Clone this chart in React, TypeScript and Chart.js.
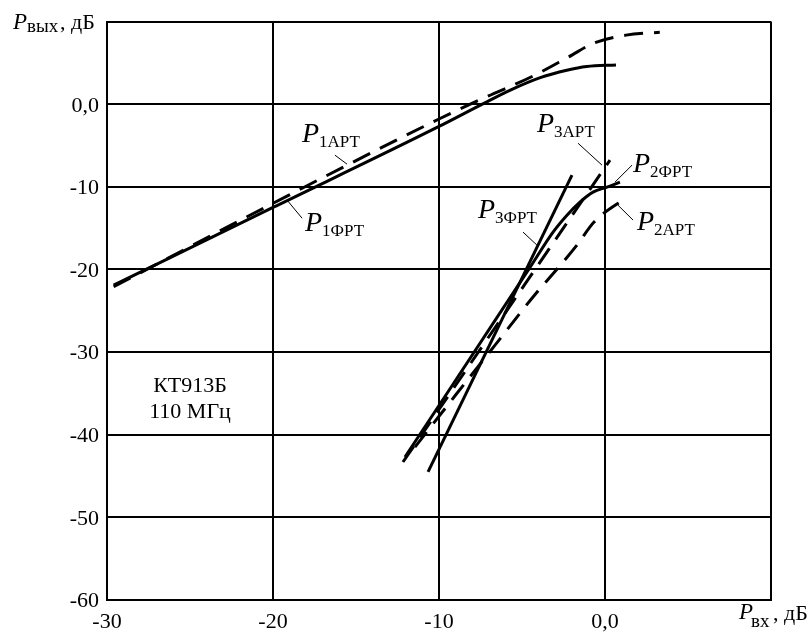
import { useEffect, useRef } from 'react';
import { Chart, registerables } from 'chart.js';

Chart.register(...registerables);

// ---- axis ticks ----
const xTicks = [-30, -20, -10, 0];
const xTickLabels = ['-30', '-20', '-10', '0,0'];
const yTicks = [0, -10, -20, -30, -40, -50, -60];
const yTickLabels = ['0,0', '-10', '-20', '-30', '-40', '-50', '-60'];

// ---- series (x = Pвх, дБ ; y = Pвых, дБ) ----
const p1FrtX = [-29.6, -20, -10, -7.3, -5.7, -3.9, -2.3, -1.1, 0.66];
const p1FrtY = [-21.9, -12.5, -2.7, 0.1, 1.7, 3.2, 4.1, 4.55, 4.75];

const p1ArtX = [-29.6, -20, -10, -7.35, -4.34, -2.2, -0.66, 1.27, 3.3];
const p1ArtY = [-22.1, -12.0, -1.8, 0.7, 3.4, 5.7, 7.4, 8.35, 8.7];

const p3FrtX = [-10.66, -1.99];
const p3FrtY = [-44.5, -8.59];

const p3ArtX = [-12.17, 0.3];
const p3ArtY = [-43.3, -6.77];

const p2FrtX = [-12.05, -4.5, -3.13, -2.29, -1.51, -0.72, 0.12, 0.9];
const p2FrtY = [-42.7, -19.7, -15.48, -13.43, -11.85, -10.64, -10.04, -9.44];

const p2ArtX = [-11.45, -9.0, -6.6, -4.2, -2.95, -1.69, -0.66, 0.9, 1.33];
const p2ArtY = [-41.5, -35.2, -29.1, -23.0, -20.1, -17.05, -14.27, -11.85, -11.37];

// ---- curve labels (data coords of P's left edge / baseline) ----
const labelSubs = ['1АРТ', '1ФРТ', '3АРТ', '2ФРТ', '2АРТ', '3ФРТ'];
const labelX = [-18.25, -18.07, -4.1, 1.69, 1.93, -7.65];
const labelY = [-4.6, -15.36, -3.39, -8.23, -15.24, -13.79];

// leader lines
const leaderX1 = [-16.27, -19.16, -1.63, 1.63, 0.78, -4.94];
const leaderY1 = [-6.17, -11.6, -4.72, -7.38, -12.22, -15.48];
const leaderX2 = [-15.54, -18.25, -0.18, 0.6, 1.69, -4.1];
const leaderY2 = [-7.26, -13.8, -7.38, -9.44, -14.03, -17.06];

// device note
const noteLines = ['КТ913Б', '110 МГц'];
const noteX = -25;
const noteY = [-34.84, -37.98];

const SERIF = '"Liberation Serif", "Times New Roman", serif';

function pts(xs: number[], ys: number[]) {
  return xs.map((x, i) => ({ x, y: ys[i] }));
}

const textPlugin = {
  id: 'texts',
  afterDraw(chart: any) {
    const ctx = chart.ctx as CanvasRenderingContext2D;
    const xs = chart.scales.x;
    const ys = chart.scales.y;
    ctx.save();
    ctx.fillStyle = '#000';
    ctx.strokeStyle = '#000';

    // y tick labels
    ctx.font = `22px ${SERIF}`;
    ctx.textAlign = 'right';
    ctx.textBaseline = 'alphabetic';
    yTicks.forEach((v, i) => {
      ctx.fillText(yTickLabels[i], xs.left - 8, ys.getPixelForValue(v) + 7.4);
    });
    // x tick labels
    ctx.textAlign = 'center';
    xTicks.forEach((v, i) => {
      ctx.fillText(xTickLabels[i], xs.getPixelForValue(v), ys.bottom + 27.5);
    });

    // axis titles
    ctx.textAlign = 'left';
    ctx.font = `italic 23px ${SERIF}`;
    ctx.fillText('P', 13, 29);
    ctx.font = `19px ${SERIF}`;
    ctx.fillText('вых', 27, 32);
    ctx.font = `22px ${SERIF}`;
    ctx.fillText(', дБ', 60, 29);

    ctx.font = `italic 23px ${SERIF}`;
    ctx.fillText('P', 739, 619);
    ctx.font = `19px ${SERIF}`;
    ctx.fillText('вх', 751, 627);
    ctx.font = `22px ${SERIF}`;
    ctx.fillText(', дБ', 773, 620);

    // leader lines
    ctx.lineWidth = 1;
    for (let i = 0; i < leaderX1.length; i++) {
      ctx.beginPath();
      ctx.moveTo(xs.getPixelForValue(leaderX1[i]), ys.getPixelForValue(leaderY1[i]));
      ctx.lineTo(xs.getPixelForValue(leaderX2[i]), ys.getPixelForValue(leaderY2[i]));
      ctx.stroke();
    }

    // curve labels
    for (let i = 0; i < labelSubs.length; i++) {
      const px = xs.getPixelForValue(labelX[i]);
      const py = ys.getPixelForValue(labelY[i]);
      ctx.font = `italic 28px ${SERIF}`;
      ctx.fillText('P', px, py);
      ctx.font = `17px ${SERIF}`;
      ctx.fillText(labelSubs[i], px + 17, py + 5);
    }

    // note
    ctx.font = `22px ${SERIF}`;
    ctx.textAlign = 'center';
    noteLines.forEach((t, i) => {
      ctx.fillText(t, xs.getPixelForValue(noteX), ys.getPixelForValue(noteY[i]));
    });
    ctx.restore();
  },
};

export default function App() {
  const ref = useRef<HTMLCanvasElement | null>(null);
  useEffect(() => {
    if (!ref.current) return;
    const solid = { borderColor: '#000', borderWidth: 3, pointRadius: 0, showLine: true, fill: false };
    const dashed = { ...solid, borderDash: [19, 11] };
    const chart = new Chart(ref.current, {
      type: 'scatter',
      data: {
        datasets: [
          { ...solid, label: 'P1ФРТ', data: pts(p1FrtX, p1FrtY), cubicInterpolationMode: 'monotone' },
          { ...dashed, label: 'P1АРТ', data: pts(p1ArtX, p1ArtY), cubicInterpolationMode: 'monotone' },
          { ...solid, label: 'P3ФРТ', data: pts(p3FrtX, p3FrtY) },
          { ...dashed, label: 'P3АРТ', data: pts(p3ArtX, p3ArtY) },
          { ...solid, label: 'P2ФРТ', data: pts(p2FrtX, p2FrtY), cubicInterpolationMode: 'monotone' },
          { ...dashed, label: 'P2АРТ', data: pts(p2ArtX, p2ArtY), cubicInterpolationMode: 'monotone' },
        ] as any,
      },
      options: {
        animation: false,
        responsive: false,
        maintainAspectRatio: false,
        layout: { padding: { left: 107, top: 21.5, right: 37, bottom: 35 } },
        plugins: { legend: { display: false }, tooltip: { enabled: false } },
        scales: {
          x: {
            type: 'linear',
            min: -30,
            max: 10,
            ticks: { stepSize: 10, display: false },
            grid: { color: '#000', lineWidth: 2, drawTicks: false },
            border: { display: true, color: '#000', width: 2 },
          },
          y: {
            type: 'linear',
            min: -60,
            max: 10,
            ticks: { stepSize: 10, display: false },
            grid: { color: '#000', lineWidth: 2, drawTicks: false },
            border: { display: true, color: '#000', width: 2 },
          },
        },
      },
      plugins: [textPlugin],
    });
    return () => chart.destroy();
  }, []);
  return (
    <div style={{ position: 'absolute', left: 0, top: 0, width: 808, height: 635, background: '#fff' }}>
      <canvas ref={ref} width={808} height={635} style={{ width: 808, height: 635, display: 'block' }} />
    </div>
  );
}
